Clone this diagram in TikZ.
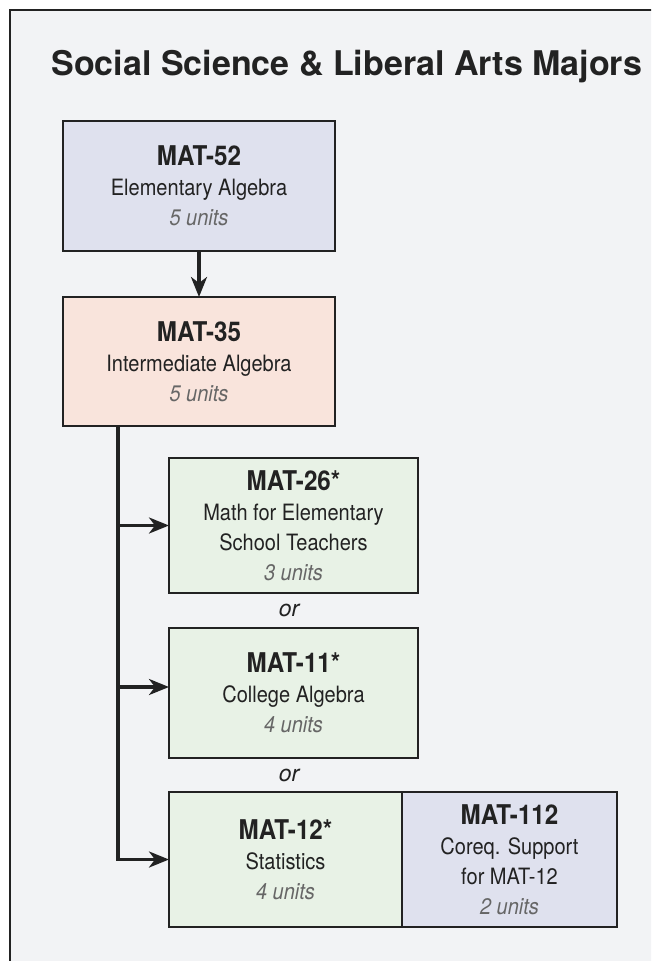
\documentclass[tikz,border=0pt]{standalone}
\usepackage{fontspec}
\setmainfont{TeX Gyre Heros}
\newfontfamily\condfont[FakeStretch=0.89]{TeX Gyre Heros}
\usetikzlibrary{arrows.meta}

\definecolor{pagebg}{HTML}{F2F3F5}
\definecolor{lavender}{HTML}{DFE1EE}
\definecolor{peach}{HTML}{F9E4DC}
\definecolor{mint}{HTML}{E8F2E6}
\definecolor{ink}{HTML}{222222}
\definecolor{unitgray}{HTML}{666666}

\newcommand{\course}[3]{{\bfseries\fontsize{27.2}{30}\selectfont #1}\\#2\\{\itshape\color{unitgray}#3}}

\begin{document}
\begin{tikzpicture}[x=1pt, y=-1pt,
  box/.style={draw=ink, line width=1.8pt, rectangle, align=center, inner sep=0pt, outer sep=0pt, text=ink, font=\condfont\fontsize{22.5}{30}\selectfont},
  conn/.style={draw=ink, line width=3.3pt},
  arr/.style={conn, -{Stealth[length=20pt, width=16pt, inset=6pt]}},
  ortext/.style={text=ink, font=\itshape\fontsize{23}{26}\selectfont}]
					\clip (0,0) rectangle (651,961);
					\fill[white] (0,0) rectangle (651,961);
					\draw[draw=ink, line width=2pt, fill=pagebg] (9.5,10) rectangle (700,1010);
					\node[anchor=base west, text=ink, font=\bfseries\fontsize{34}{40}\selectfont] (title) at (48,75) {Social Science \& Liberal Arts Majors};
					\node[box, fill=lavender, minimum width=272pt, minimum height=130pt] (M52) at (199,186) {\course{MAT-52}{Elementary Algebra}{5 units}};
					\node[box, fill=peach, minimum width=272pt, minimum height=129pt] (M35) at (199,361.5) {\course{MAT-35}{Intermediate Algebra}{5 units}};
					\node[box, fill=mint, minimum width=249pt, minimum height=135pt] (M26) at (293.5,525.5) {\course{MAT-26*}{Math for Elementary\\School Teachers}{3 units}};
					\node[box, fill=mint, minimum width=249pt, minimum height=130pt] (M11) at (293.5,693) {\course{MAT-11*}{College Algebra}{4 units}};
					\node[box, fill=mint, minimum width=233pt, minimum height=135pt] (M12) at (285.5,859.5) {\course{MAT-12*}{Statistics}{4 units}};
					\node[box, fill=lavender, minimum width=215pt, minimum height=135pt, anchor=west] (M112) at (M12.east) {\course{MAT-112}{Coreq. Support\\for MAT-12}{2 units}};
					\node[ortext] (or1) at (289,610) {or};
					\node[ortext] (or2) at (289,775) {or};
					\coordinate (T) at (118,0);
					\path ([yshift=6pt]M11.west) coordinate (M11in);
					\draw[arr] (M52) -- (M35);
					\draw[arr] (M35.south -| T) |- (M12.west);
					\draw[arr] (T |- M26.west) -- (M26.west);
					\draw[arr] (T |- M11in) -- (M11in);
				\end{tikzpicture}
\end{document}
